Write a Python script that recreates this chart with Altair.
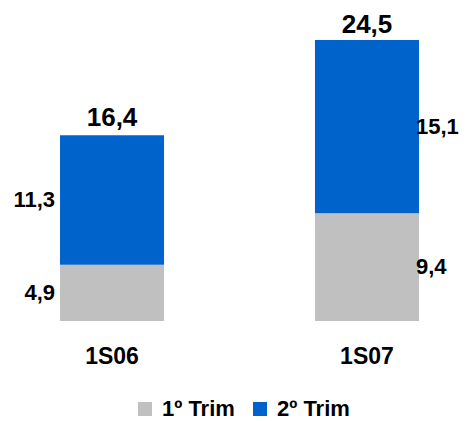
import altair as alt
import pandas as pd

periods = ["1S06", "1S07"]
series = ["1º Trim", "2º Trim"]
trim1 = [4.9, 9.4]
trim2 = [11.3, 15.1]
totals = [16.4, 24.5]
colors = ["#C0C0C0", "#0063CC"]

FONT = "Liberation Sans"


def fmt(v):
    return f"{v:.1f}".replace(".", ",")


rows = []
for p, a, b in zip(periods, trim1, trim2):
    rows.append({"period": p, "series": series[0], "value": a, "label": fmt(a)})
    rows.append({"period": p, "series": series[1], "value": b, "label": fmt(b)})
seg = pd.DataFrame(rows)
tot = pd.DataFrame({"period": periods, "total": totals,
                    "label": [fmt(t) for t in totals]})

xscale = alt.Scale(domain=periods, range=[0, 463],
                   paddingInner=0.592, paddingOuter=0.204)
xaxis = alt.Axis(domain=False, ticks=False, grid=False, labelAngle=0,
                 labelFont=FONT, labelFontSize=23, labelFontWeight="bold",
                 labelColor="#000000", labelPadding=24)
x = alt.X("period:N", sort=periods, title=None, scale=xscale, axis=xaxis)
yscale = alt.Scale(domain=[0, 27.3], nice=False, zero=True)

bars = alt.Chart(seg).mark_bar().encode(
    x=x,
    y=alt.Y("value:Q", stack="zero", scale=yscale, axis=None),
    color=alt.Color(
        "series:N",
        scale=alt.Scale(domain=series, range=colors),
        legend=alt.Legend(
            orient="none", legendX=126, legendY=390, direction="horizontal",
            title=None, symbolType="square", symbolSize=196,
            symbolStrokeWidth=0, symbolOpacity=1,
            labelFont=FONT, labelFontSize=22, labelFontWeight="bold",
            labelColor="#000000", labelOffset=6, columnPadding=14, padding=0,
        ),
    ),
    order=alt.Order("series:N", sort="ascending"),
)

seg_base = alt.Chart(seg).transform_stack(
    stack="value", groupby=["period"], as_=["v0", "v1"],
    sort=[alt.SortField("series", "ascending")],
).transform_calculate(mid="(datum.v0 + datum.v1) / 2")

text_style = dict(font=FONT, fontSize=22, fontWeight="bold", color="#000000",
                  baseline="middle")

left_labels = seg_base.transform_filter(
    alt.datum.period == periods[0]
).mark_text(align="right", dx=-57, **text_style).encode(
    x=x, y=alt.Y("mid:Q", scale=yscale, axis=None), text="label:N"
)

right_labels = seg_base.transform_filter(
    alt.datum.period == periods[1]
).mark_text(align="left", dx=49, **text_style).encode(
    x=x, y=alt.Y("mid:Q", scale=yscale, axis=None), text="label:N"
)

total_labels = alt.Chart(tot).mark_text(
    align="center", baseline="alphabetic", dy=-7, font=FONT, fontSize=26,
    fontWeight="bold", color="#000000",
).encode(
    x=x, y=alt.Y("total:Q", scale=yscale, axis=None), text="label:N"
)

chart = alt.layer(bars, left_labels, right_labels, total_labels).properties(
    width=451, height=313,
    padding={"left": 0, "top": 0, "right": 0, "bottom": 100},
    autosize=alt.AutoSizeParams(type="none"),
).configure_view(stroke=None)

chart.save("out.html", embed_options={"renderer": "svg", "actions": False})
